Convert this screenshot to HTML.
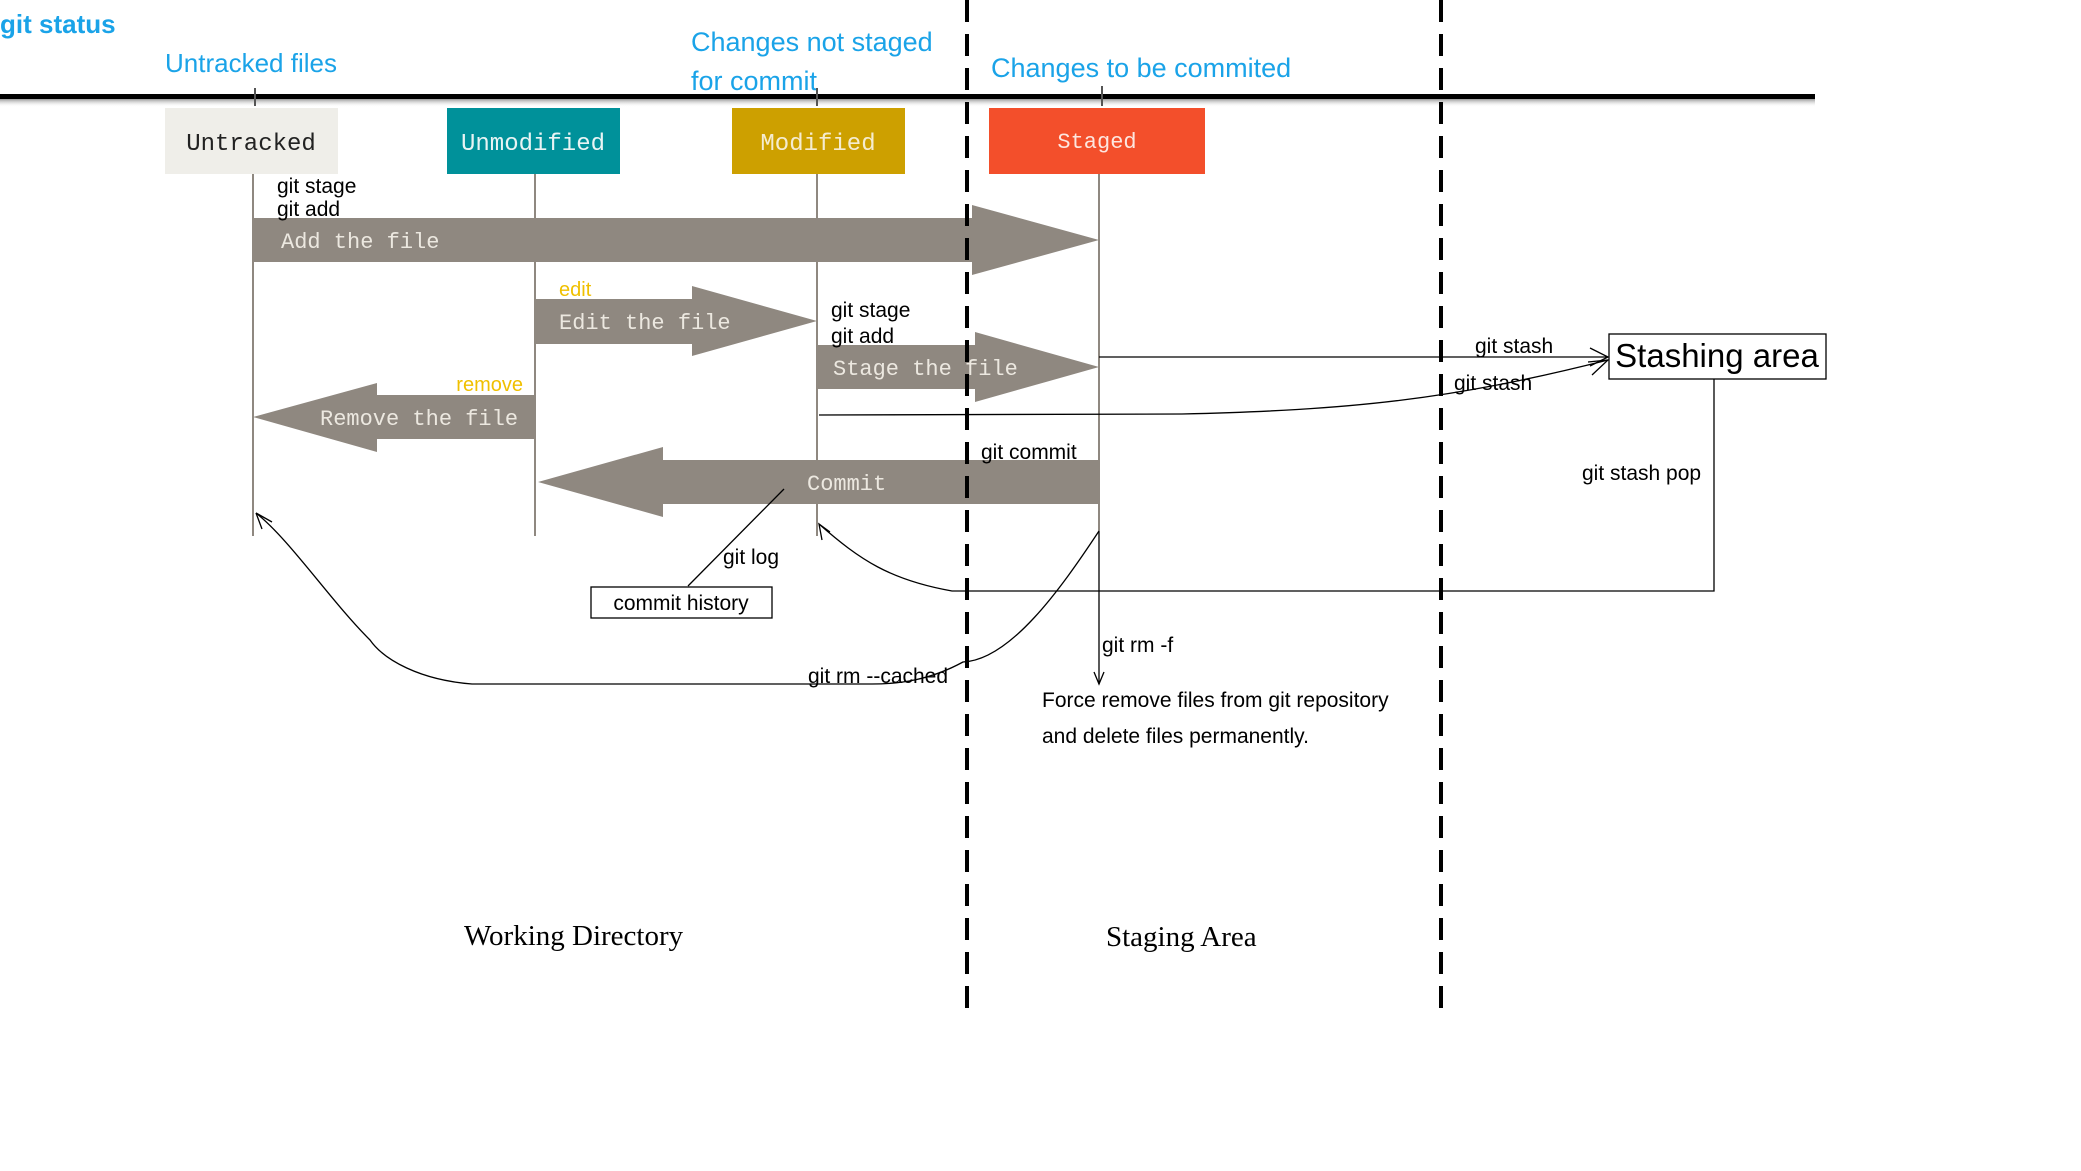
<!DOCTYPE html>
<html><head><meta charset="utf-8"><style>
html,body{margin:0;padding:0;background:#fff;}
svg{display:block;}
.b{font-family:"Liberation Sans",sans-serif;}
.m{font-family:"Liberation Mono",monospace;}
</style></head><body>
<svg width="2081" height="1171" viewBox="0 0 2081 1171" xmlns="http://www.w3.org/2000/svg">
<defs>
<linearGradient id="sh" x1="0" y1="0" x2="0" y2="1"><stop offset="0" stop-color="#999"/><stop offset="1" stop-color="#fff" stop-opacity="0"/></linearGradient>
</defs>
<text x="0" y="33" class="b" font-size="26" font-weight="bold" fill="#1aa3e8">git status</text>
<text x="165" y="72" class="b" font-size="26" fill="#1aa3e8">Untracked files</text>
<text x="691" y="51" class="b" font-size="27" fill="#1aa3e8">Changes not staged</text>
<text x="691" y="90" class="b" font-size="27" fill="#1aa3e8">for commit</text>
<text x="991" y="77" class="b" font-size="27" fill="#1aa3e8">Changes to be commited</text>
<rect x="0" y="99" width="1815" height="8" fill="url(#sh)"/>
<rect x="0" y="94" width="1815" height="5" fill="#000"/>
<g stroke="#555" stroke-width="2"><line x1="255" y1="88" x2="255" y2="106"/><line x1="817" y1="88" x2="817" y2="106"/><line x1="1102" y1="86" x2="1102" y2="106"/></g>
<rect x="165" y="108" width="173" height="66" fill="#efeee9"/>
<text x="251" y="150" class="m" font-size="24" fill="#222" text-anchor="middle">Untracked</text>
<rect x="447" y="108" width="173" height="66" fill="#00919a"/>
<text x="533" y="150" class="m" font-size="24" fill="#e8f4f4" text-anchor="middle">Unmodified</text>
<rect x="732" y="108" width="173" height="66" fill="#cda000"/>
<text x="818" y="150" class="m" font-size="24" fill="#f5ecd0" text-anchor="middle">Modified</text>
<rect x="989" y="108" width="216" height="66" fill="#f34f2b"/>
<text x="1097" y="148" class="m" font-size="22" fill="#fde6df" text-anchor="middle">Staged</text>
<g stroke="#8f8880" stroke-width="2"><line x1="253" y1="174" x2="253" y2="536"/><line x1="535" y1="174" x2="535" y2="536"/><line x1="817" y1="174" x2="817" y2="536"/><line x1="1099" y1="174" x2="1099" y2="531"/></g>
<g fill="#8f8880">
<polygon points="253,218 972,218 972,205 1099,240 972,275 972,262 253,262"/>
<polygon points="535,299 692,299 692,286 817,321 692,356 692,344 535,344"/>
<polygon points="817,345 975,345 975,332 1099,367 975,402 975,389 817,389"/>
<polygon points="535,395 377,395 377,383 253,417 377,452 377,439 535,439"/>
<polygon points="1099,460 663,460 663,447 538,482 663,517 663,504 1099,504"/>
</g>
<g class="m" font-size="22" fill="#ece8e0">
<text x="281" y="248">Add the file</text>
<text x="559" y="329">Edit the file</text>
<text x="833" y="375">Stage the file</text>
<text x="320" y="425">Remove the file</text>
<text x="807" y="490">Commit</text>
</g>
<g class="b" font-size="20" fill="#f0c000">
<text x="559" y="296">edit</text>
<text x="523" y="391" text-anchor="end">remove</text>
</g>
<g stroke="#000" stroke-width="4" stroke-dasharray="22,12"><line x1="967" y1="0" x2="967" y2="1016"/><line x1="1441" y1="0" x2="1441" y2="1016"/></g>
<g fill="none" stroke="#000" stroke-width="1.3">
<line x1="1099" y1="357" x2="1608" y2="357"/>
<path d="M1590,348 L1608,357 L1590,366"/>
<path d="M819,415 L1182,414 C1350,410 1450,400 1608,360"/>
<path d="M1588,362 L1608,360 L1592,375"/>
<path d="M1714,379 L1714,591 L952,591 C890,580 860,560 819,524"/>
<path d="M830,532 L819,524 L822,540"/>
<path d="M1099,531 C1060,590 1010,660 963,662 C930,680 900,684 872,684 L472,684 C420,680 384,660 370,640 C330,600 290,540 256,513"/>
<path d="M256,513 L262,529 M256,513 L272,522"/>
<line x1="1099" y1="531" x2="1099" y2="684"/>
<path d="M1094,672 L1099,684 L1104,672"/>
<line x1="784" y1="489" x2="688" y2="586"/>
</g>
<rect x="1609" y="334" width="217" height="45" fill="#fff" stroke="#000" stroke-width="1.3"/>
<text x="1717" y="367" class="b" font-size="33" fill="#000" text-anchor="middle">Stashing area</text>
<rect x="591" y="587" width="181" height="31" fill="#fff" stroke="#000" stroke-width="1.3"/>
<text x="681" y="610" class="b" font-size="21" fill="#000" text-anchor="middle">commit history</text>
<g class="b" font-size="21" fill="#000">
<text x="277" y="193">git stage</text>
<text x="277" y="216">git add</text>
<text x="831" y="317">git stage</text>
<text x="831" y="343">git add</text>
<text x="981" y="459">git commit</text>
<text x="1475" y="353">git stash</text>
<text x="1454" y="390">git stash</text>
<text x="1582" y="480">git stash pop</text>
<text x="723" y="564">git log</text>
<text x="808" y="683">git rm --cached</text>
<text x="1102" y="652">git rm -f</text>
<text x="1042" y="707">Force remove files from git repository</text>
<text x="1042" y="743">and delete files permanently.</text>
</g>
<g font-family="'Liberation Serif',serif" font-size="29" fill="#000">
<text x="464" y="945">Working Directory</text>
<text x="1106" y="946">Staging Area</text>
</g>
</svg>
</body></html>
